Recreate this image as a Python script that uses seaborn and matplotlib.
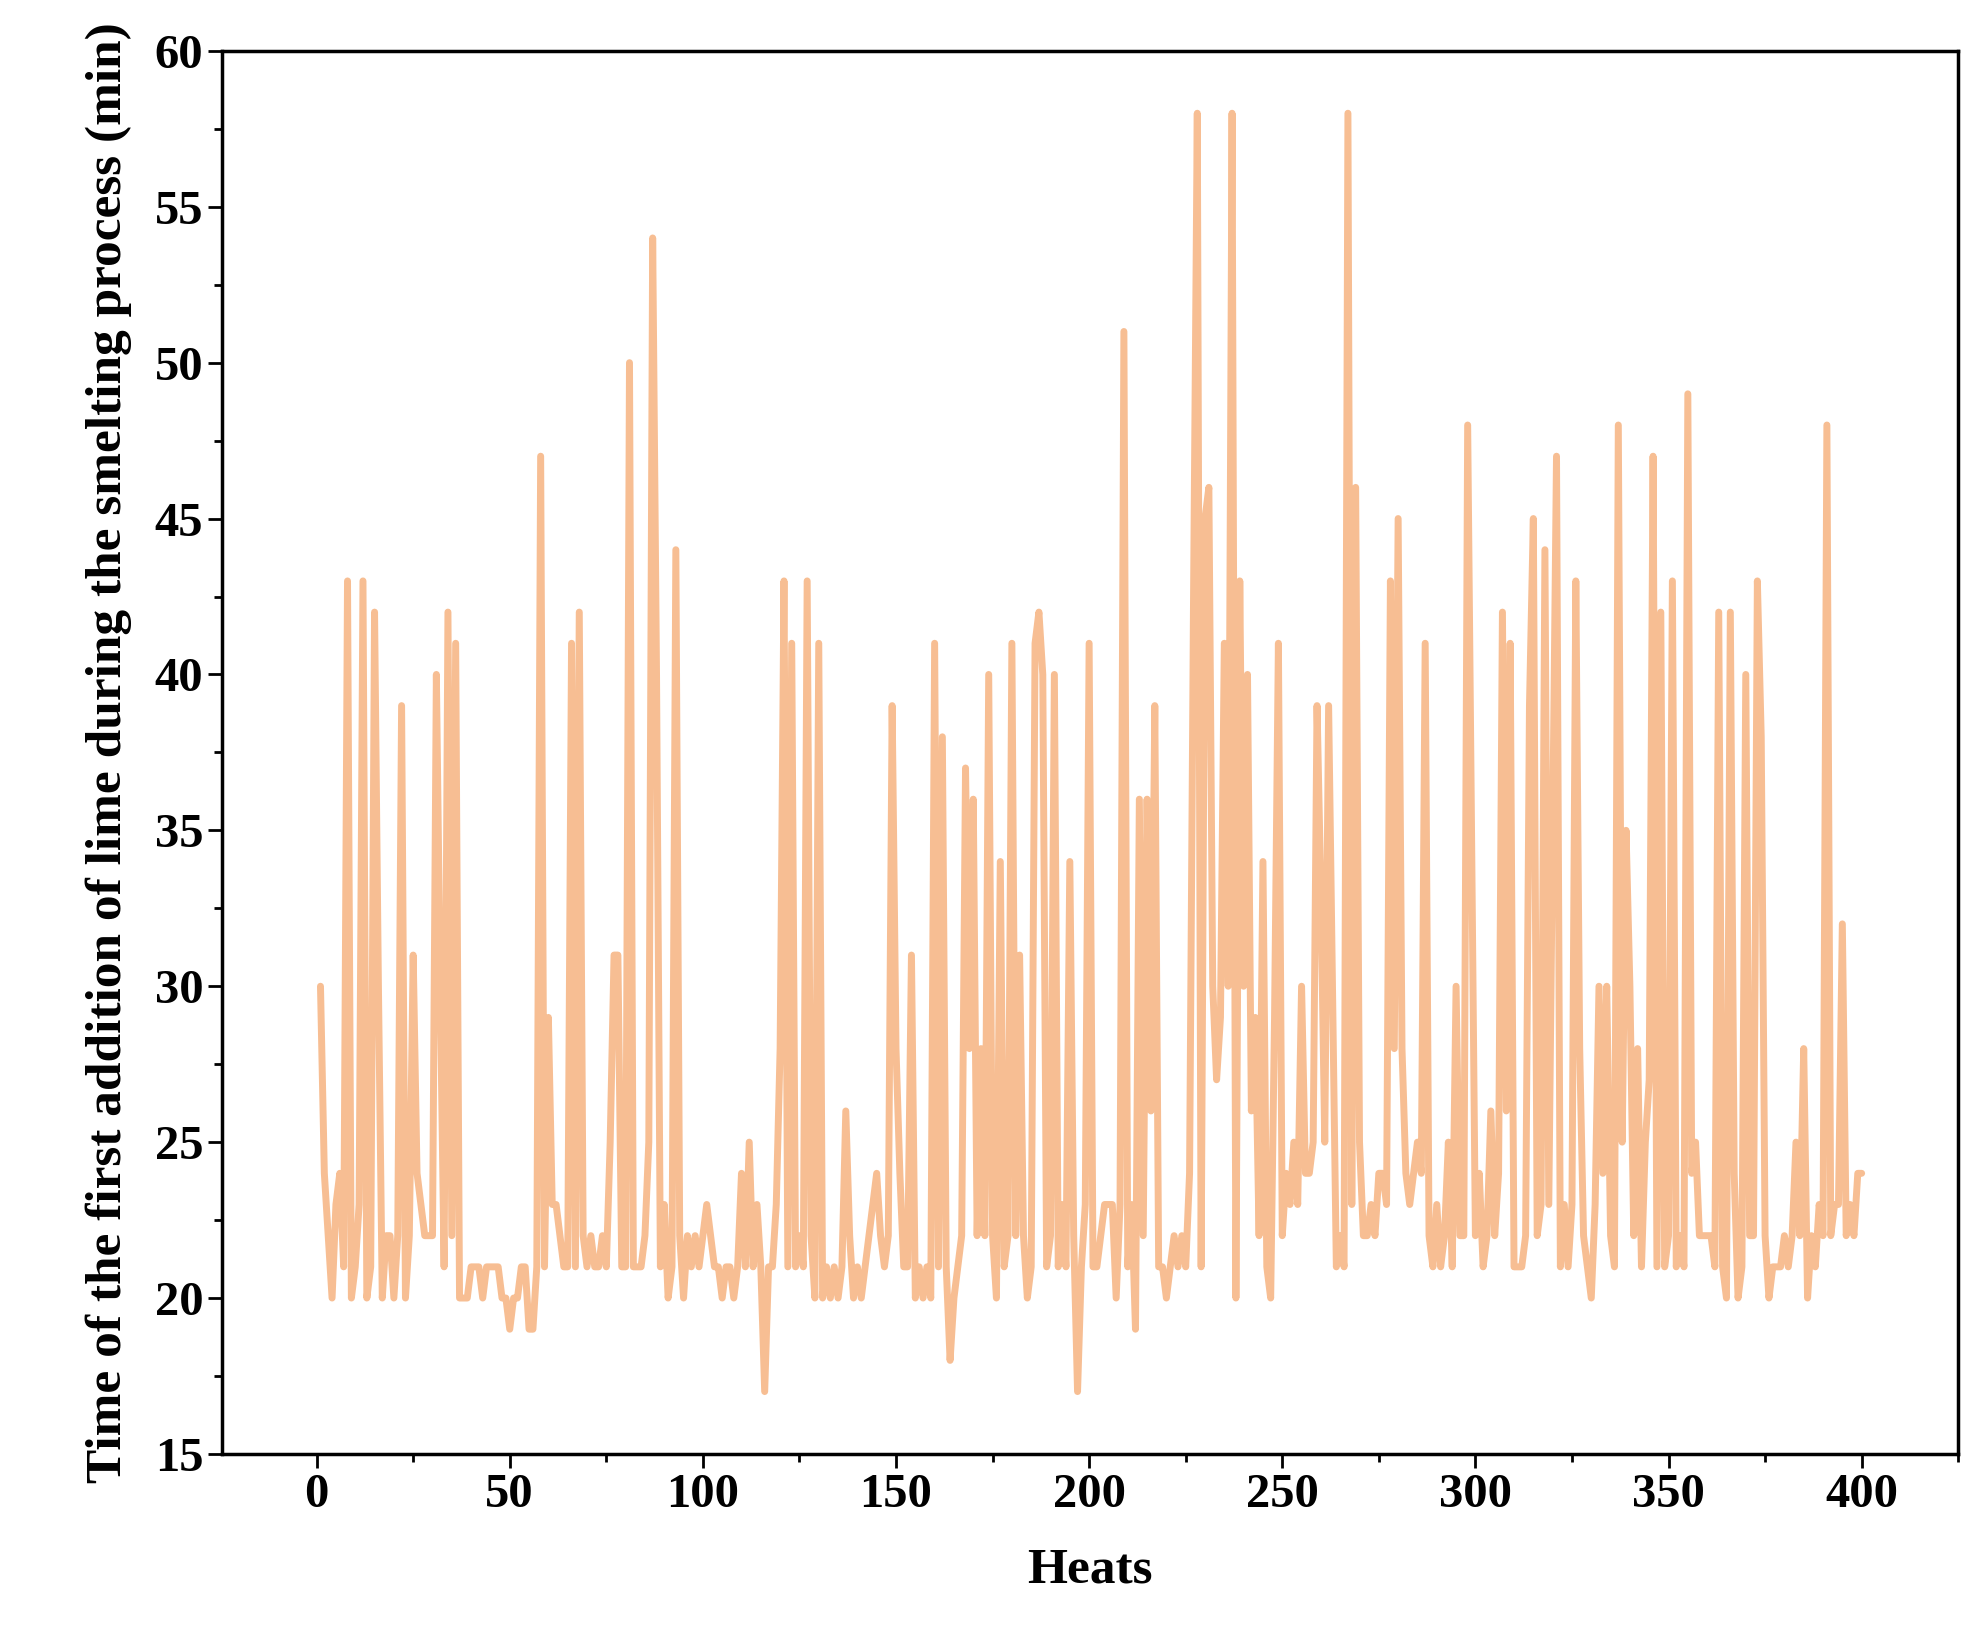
import matplotlib
matplotlib.use("Agg")
import matplotlib.pyplot as plt
import seaborn as sns
import pandas as pd
import numpy as np
from matplotlib.ticker import MultipleLocator

values = [
30,24,22,20,23,24,21,43,20,21, 23,43,20,21,42,30,20,22,22,20,
22,39,20,22,31,24,23,22,22,22, 40,30,21,42,22,41,20,20,20,21,
21,21,20,21,21,21,21,20,20,19, 20,20,21,21,19,19,21,47,21,29,
23,23,22,21,21,41,21,42,22,21, 22,21,21,22,21,25,31,31,21,21,
50,21,21,21,22,25,54,40,21,23, 20,21,44,22,20,22,21,22,21,22,
23,22,21,21,20,21,21,20,21,24, 21,25,21,23,21,17,21,21,23,28,
43,21,41,21,22,21,43,22,20,41, 20,21,20,21,20,21,26,22,20,21,
20,21,22,23,24,22,21,22,39,28, 24,21,21,31,20,21,20,21,20,41,
21,38,21,18,20,21,22,37,28,36, 22,28,22,40,22,20,34,21,22,41,
22,31,22,20,21,41,42,40,21,22, 40,21,23,21,34,22,17,21,23,41,
21,21,22,23,23,23,20,23,51,21, 23,19,36,22,36,26,39,21,21,20,
21,22,21,
22,21,24,42,58,21,45,46,30,27, 29,41,30,58,20,43,30,40,26,29,
22,34,21,20,29,41,22,24,23,25, 23,30,24,24,25,39,33,25,39,
30,21,22,21,58,23,46,25,22,22, 23,22,24,24,23,43,28,45,
28,24,23,24,25,24,41,22,21,23, 21,22,25,21,30,22,22,48,35,22,
24,21,22,26,22,24,42,26,41,21, 21,21,22,39,45,22,23,44,23,35,
47,21,23,21,23,43,28,22,21,20, 23,30,24,30,22,21,48,25,35,30,
22,28,21,25,27,47,21,42,21,22, 43,21,22,21,49,24,25,22,22,22,
22,21,42,21,20,42,24,20,21,40, 22,22,43,38,22,20,21,21,21,22,
21,22,25,22,28,20,22,21,23,22, 48,22,23,23,32,22,23,22,24,24,
]
heats = list(range(1, len(values) + 1))
df = pd.DataFrame({"Heats": heats, "Time": values})

sns.set_theme(style="ticks")
plt.rcParams["font.family"] = ["Liberation Serif", "DejaVu Serif"]
plt.rcParams["font.weight"] = "bold"
plt.rcParams["text.color"] = "black"
plt.rcParams["axes.labelcolor"] = "black"
plt.rcParams["xtick.color"] = "black"
plt.rcParams["ytick.color"] = "black"

fig = plt.figure(figsize=(19.82, 16.41), dpi=100)
ax = fig.add_axes([0.112, 0.114, 0.876, 0.855])
sns.lineplot(data=df, x="Heats", y="Time", ax=ax, color="#F7BE93", linewidth=5)
ax.set_xlim(-24.5, 425)
ax.set_ylim(15, 60)
ax.xaxis.set_major_locator(MultipleLocator(50))
ax.xaxis.set_minor_locator(MultipleLocator(25))
ax.yaxis.set_major_locator(MultipleLocator(5))
ax.yaxis.set_minor_locator(MultipleLocator(2.5))
ax.tick_params(which="major", direction="out", length=10, width=2, labelsize=35, colors="black")
ax.tick_params(which="minor", direction="out", length=6, width=2, colors="black")
for s in ax.spines.values():
    s.set_linewidth(2.5)
    s.set_color("black")
for lab in ax.get_xticklabels() + ax.get_yticklabels():
    lab.set_fontweight("bold")
ax.set_xlabel("Heats", fontsize=37, fontweight="bold", labelpad=22, color="black")
ax.set_ylabel("Time of the first addition of lime during the smelting process (min)",
              fontsize=37, fontweight="bold", labelpad=16, color="black")
fig.savefig("out.png", dpi=100)
